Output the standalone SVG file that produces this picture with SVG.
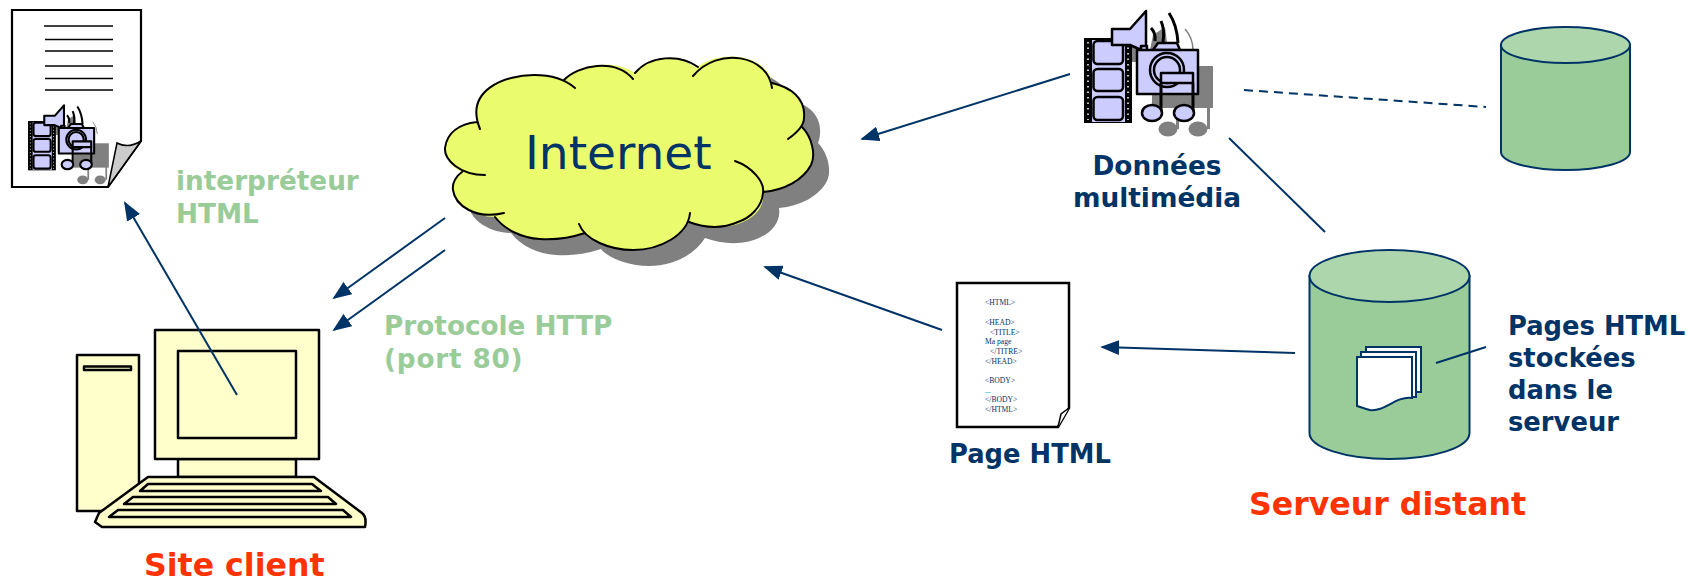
<svg xmlns="http://www.w3.org/2000/svg" xmlns:xlink="http://www.w3.org/1999/xlink" width="1688" height="582" viewBox="0 0 1688 582">
<style>
text{font-family:"DejaVu Sans",Verdana,sans-serif;font-weight:bold}
.navy{fill:#003366}
.green{fill:#99CC99;font-size:26.3px}
.red{fill:#FF3300;font-size:31.6px}
.lbl{fill:#003366;font-size:26.4px}
.lbl.s{font-size:25.8px}
.code{font-family:"Liberation Serif",serif;font-weight:normal;font-size:7.6px;fill:#003366}
.k{fill:#FFFFCC;stroke:#000;stroke-width:2.5;stroke-linejoin:round}
.conn{fill:none;stroke:#003366;stroke-width:2}
.cyl{fill:#99CC99;stroke:#003366;stroke-width:2}
.cyltop{fill:#ADD6AD;stroke:#003366;stroke-width:2}
.page{fill:#fff;stroke:#003366;stroke-width:2}
.m{fill:#CCCCFF;stroke:#000;stroke-width:var(--s,2.5);stroke-linejoin:round}
.w{fill:none;stroke:#000;stroke-width:var(--s,3)}
.docl{stroke:#000;stroke-width:1.6}
</style>
<defs>
<marker id="arr" viewBox="0 0 10 10" refX="9" refY="5" markerUnits="userSpaceOnUse" markerWidth="19" markerHeight="15" orient="auto" preserveAspectRatio="none"><path d="M0 0L10 5L0 10Z" fill="#003366"/></marker>
<path id="cloudfill" d="M477 122C470 90 505 75 534 75C547 75 556 77 564 80C578 65 615 58 635 73C650 55 680 54 696 68C720 48 768 55 772 83C790 87 806 98 804 118C804 121 803 124 802 127C812 137 816 155 811 165C803 180 785 190 763 192C765 205 757 215 745 221C728 230 705 228 689 222C678 240 655 250 633 250C610 250 590 240 585 233C570 238 555 240 540 239C522 238 505 230 495 217C475 217 455 205 453 190C452 183 456 176 462 172C450 168 444 155 445 148C447 132 460 124 477 122Z"/>
<g id="media-gray">
<g fill="#808080" stroke="none">
<rect x="1152" y="66" width="61" height="42"/>
<ellipse cx="1168" cy="129" rx="9.500" ry="7.500"/>
<ellipse cx="1198" cy="129" rx="9.500" ry="7.500"/>
<rect x="1176" y="105" width="3" height="24"/>
<rect x="1207" y="105" width="3" height="24"/>
</g>
<path d="M1185 29Q1193 38 1193 50" fill="none" stroke="#808080" stroke-width="1.5"/>
</g>
<g id="media">
<path d="M1153 35L1165 27L1168 50L1150 50ZM1128 47H1138V62H1128Z" fill="#808080"/>
<rect x="1084" y="38" width="48" height="85" fill="#000"/>
<rect x="1092" y="40" width="33" height="82" fill="#CCCCFF"/>
<path d="M1088 42V120M1128 42V120" stroke="#fff" stroke-width="1.5" stroke-dasharray="1.5 4" fill="none"/>
<rect class="m" x="1093.500" y="41" width="29.500" height="23" rx="4"/>
<rect class="m" x="1093.500" y="69" width="29.500" height="22" rx="4"/>
<rect class="m" x="1093.500" y="97" width="29.500" height="23" rx="4"/>
<path class="m" d="M1112 29H1130L1146 11V52L1130 45H1112Z"/>
<path class="w" d="M1151 28Q1156 33 1155 41M1161 21Q1165 30 1163 42M1169 13Q1177 25 1178 43"/>
<path class="m" d="M1153 50L1158 43H1177L1180 50Z"/>
<rect class="m" x="1141" y="46" width="6" height="5"/>
<rect class="m" x="1137" y="50" width="61" height="44"/>
<circle class="m" cx="1167" cy="70" r="17"/>
<circle class="m" cx="1167" cy="70" r="13"/>
<rect class="m" x="1161" y="73" width="32" height="10"/>
<path class="w" d="M1161 83V113M1193 83V113"/>
<ellipse class="m" cx="1152" cy="113" rx="10" ry="8"/>
<ellipse class="m" cx="1184" cy="113" rx="10" ry="8"/>
</g>
</defs>

<g id="doc-client">
<path d="M12 10H141V141L108 187H12Z" fill="#fff" stroke="#000" stroke-width="2.200"/>
<path d="M108 187L117 143Q128 149 141 141Z" fill="#ccc" stroke="#000" stroke-width="1.500"/>
<path class="docl" d="M44 26H113M45 39.500H113M45 51H113M45 66H113M45 78.500H113M45 90H113"/>
<use xlink:href="#media-gray" href="#media-gray" transform="translate(-594.700 105) scale(.58)"/>
<use xlink:href="#media" href="#media" style="--s:3.600" transform="translate(-600.700 99) scale(.58)"/>
</g>

<g id="computer">
<rect class="k" x="77" y="355" width="62" height="156"/>
<rect class="k" x="84" y="366.500" width="47" height="3.500"/>
<rect class="k" x="178" y="459" width="118" height="18"/>
<rect class="k" x="155" y="330" width="164" height="129"/>
<rect class="k" x="178" y="351" width="118" height="87"/>
<path class="k" d="M148 477H314L362 513Q367 517 365 527H102L95 522L99 513Z"/>
<path class="k" d="M148 484H312L321 491H140Z"/>
<path class="k" d="M133 497H328L336 504H124Z"/>
<path class="k" d="M118 510H343L351 517H109Z"/>
</g>

<g id="internet">
<use xlink:href="#cloudfill" href="#cloudfill" transform="translate(16 16)" fill="#808080"/>
<use xlink:href="#cloudfill" href="#cloudfill" fill="#EBFB6E"/>
<path fill="none" stroke="#000" stroke-width="2" stroke-linecap="round" d="M480 129C464 90 505 75 534 75C552 75 566 80 575 88M564 80C578 65 615 58 633 79M635 73C650 55 680 54 698 67M693 76C718 46 768 55 772 88M772 83C790 87 806 98 804 118C804 125 798 132 788 139M802 127C812 137 816 155 811 165C803 180 785 190 763 192M735 161C752 167 765 182 763 193C762 207 750 218 738 222C722 229 705 228 689 222M690 213C688 235 660 250 633 250C610 250 585 240 579 224M585 233C570 238 555 240 540 239C522 238 505 230 495 217M504 213C475 220 455 205 453 190C452 183 456 176 462 172M485 175C460 175 444 160 445 148C447 132 460 124 477 122"/>
<text x="525" y="169" font-size="47" class="navy" style="font-weight:normal">Internet</text>
</g>

<g id="media-data">
<use xlink:href="#media-gray" href="#media-gray"/>
<use xlink:href="#media" href="#media"/>
<text class="lbl" x="1157" y="175" text-anchor="middle">Données</text>
<text class="lbl" x="1157" y="207" text-anchor="middle">multimédia</text>
</g>

<g id="db-small">
<path class="cyl" d="M1501 45V152A64.500 18 0 0 0 1630 152V45Z"/>
<ellipse class="cyltop" cx="1565.500" cy="45" rx="64.500" ry="18"/>
</g>

<g id="page-html">
<path d="M957 283H1069V408L1058 427H957Z" fill="#fff" stroke="#000" stroke-width="2.500"/>
<path d="M1058 427L1061 414L1069 408" fill="#fff" stroke="#000" stroke-width="1.500"/>
<text class="code" x="985" y="305">&lt;HTML&gt;</text>
<text class="code" x="985" y="325">&lt;HEAD&gt;</text>
<text class="code" x="990" y="335">&lt;TITLE&gt;</text>
<text class="code" x="985" y="344">Ma page</text>
<text class="code" x="990" y="354">&lt;/TITRE&gt;</text>
<text class="code" x="985" y="364">&lt;/HEAD&gt;</text>
<text class="code" x="985" y="383">&lt;BODY&gt;</text>
<text class="code" x="985" y="393">...</text>
<text class="code" x="985" y="402">&lt;/BODY&gt;</text>
<text class="code" x="985" y="412">&lt;/HTML&gt;</text>
<text class="lbl s" x="949" y="463">Page HTML</text>
</g>

<g id="server">
<path class="cyl" d="M1309.500 276V433A80 26 0 0 0 1469.500 433V276Z"/>
<ellipse class="cyltop" cx="1389.500" cy="276" rx="80" ry="26"/>
<rect class="page" x="1366" y="347" width="55" height="45"/>
<rect class="page" x="1361" y="352" width="55" height="45"/>
<path class="page" d="M1357 357H1412V398C1395 396 1385 412 1370 410C1365 409 1360 407 1357 406Z"/>
<text class="lbl s" x="1508" y="335">Pages HTML</text>
<text class="lbl s" x="1508" y="367">stockées</text>
<text class="lbl s" x="1508" y="399">dans le</text>
<text class="lbl s" x="1508" y="431">serveur</text>
</g>

<g id="labels">
<text class="green" x="176" y="190">interpréteur</text>
<text class="green" x="176" y="223">HTML</text>
<text class="green" x="384" y="335">Protocole HTTP</text>
<text class="green" x="384" y="368" letter-spacing=".8">(port 80)</text>
<text class="red" x="144" y="576">Site client</text>
<text class="red" x="1249" y="515">Serveur distant</text>
</g>

<g id="connectors">
<path class="conn" marker-end="url(#arr)" d="M237 395L125 203"/>
<path class="conn" marker-end="url(#arr)" d="M445 218L334 298"/>
<path class="conn" marker-end="url(#arr)" d="M445 250L334 330"/>
<path class="conn" marker-end="url(#arr)" d="M1070 74L862 139"/>
<path class="conn" marker-end="url(#arr)" d="M942 330L765 267"/>
<path class="conn" marker-end="url(#arr)" d="M1295 353L1102 347"/>
<path class="conn" d="M1229 138L1325 232"/>
<path class="conn" stroke-dasharray="9 6" d="M1244 90L1486 107"/>
<path class="conn" d="M1436 363L1486 347"/>
</g>
</svg>
